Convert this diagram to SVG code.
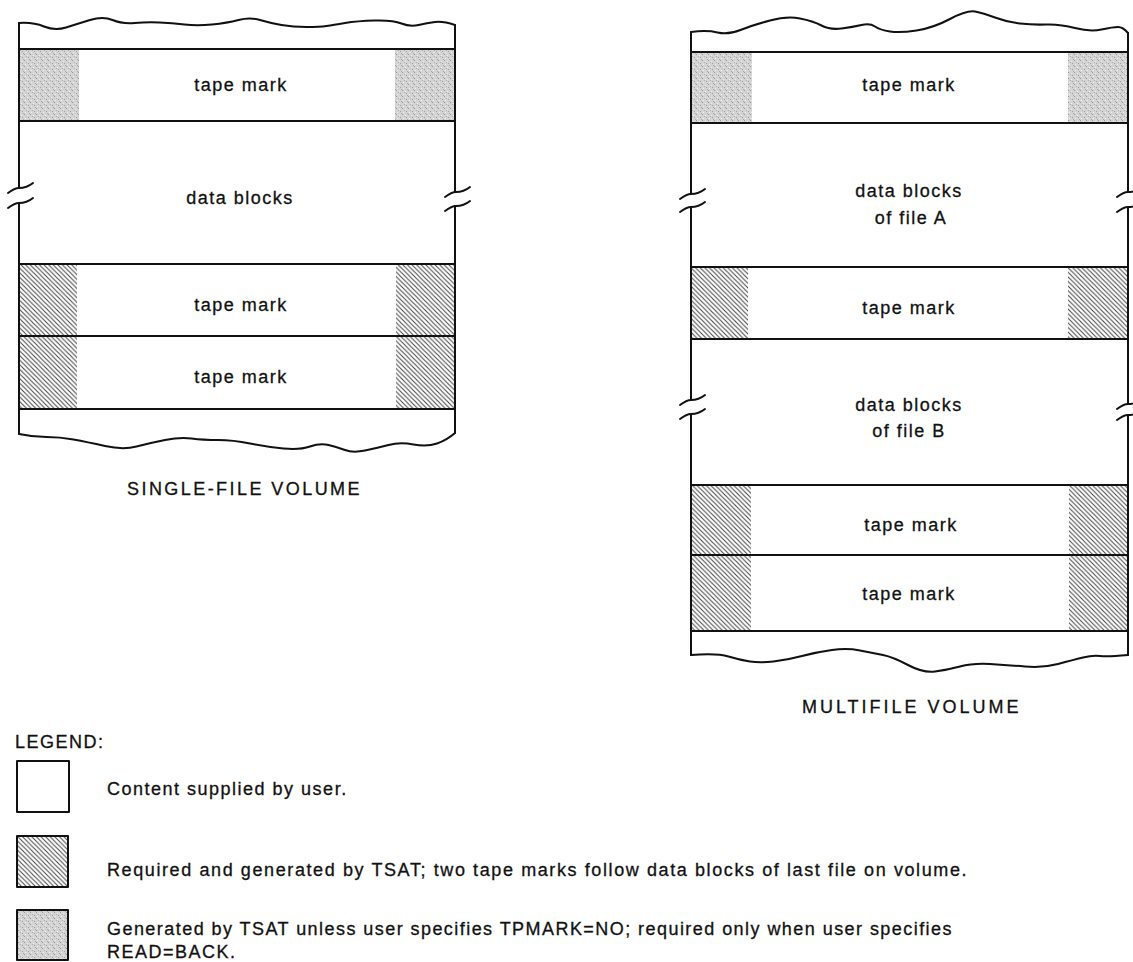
<svg xmlns="http://www.w3.org/2000/svg" xmlns:xlink="http://www.w3.org/1999/xlink" width="1133" height="962" viewBox="0 0 1133 962">
<style>
.ln{stroke:#111;stroke-width:2;fill:none;stroke-linecap:round;stroke-linejoin:round}
.t{font-family:"Liberation Sans",Arial,Helvetica,sans-serif;font-size:18px;fill:#111;stroke:#111;stroke-width:0.3px;letter-spacing:1.5px}
.c{text-anchor:middle}
.h{fill:url(#hatch)}
.s{fill:url(#stipple)}
</style>
<defs>
<pattern id="hatch" patternUnits="userSpaceOnUse" width="4.6" height="4.6">
<rect width="4.6" height="4.6" fill="#fff"/>
<path d="M-1,-1 L5.6,5.6 M-1,3.6 L1,5.6 M3.6,-1 L5.6,1" stroke="#444" stroke-width="1"/>
</pattern>
<pattern id="stipple" patternUnits="userSpaceOnUse" width="6" height="6">
<rect width="6" height="6" fill="#d4d4d4"/>
<rect x="0" y="0" width="1" height="1" fill="#9a9a9a"/>
<rect x="3" y="1" width="1" height="1" fill="#eeeeee"/>
<rect x="4" y="3" width="1" height="1" fill="#a0a0a0"/>
<rect x="1" y="4" width="1" height="1" fill="#f0f0f0"/>
<rect x="2" y="2" width="1" height="1" fill="#b0b0b0"/>
<rect x="5" y="5" width="1" height="1" fill="#aaaaaa"/>
</pattern>
<path id="tilde" class="ln" d="M-11,5 C-7,2 -4,0 0,0 S9,-1 14,-5"/>
</defs>
<rect width="1133" height="962" fill="#fff"/>

<g id="single-file-volume">
  <g id="sf-shading">
    <rect class="s" x="19" y="49" width="60" height="72"/>
    <rect class="s" x="395" y="49" width="60" height="72"/>
    <rect class="h" x="19" y="264" width="58" height="72"/>
    <rect class="h" x="396" y="264" width="59" height="72"/>
    <rect class="h" x="19" y="336" width="58" height="73"/>
    <rect class="h" x="396" y="336" width="59" height="73"/>
  </g>
  <g id="sf-outline">
    <path class="ln" d="M19,23 Q33,22 44,26.5 Q55,31 66,27.5 Q77,24 90,20 Q103,16 112.5,20 Q122,24 134.5,23 Q147,22 159.5,22.5 Q172,23 184.5,24.5 Q197,26 212,24.5 Q227,23 238.5,20 Q250,17 260,20 Q270,23 281.5,25 Q293,27 306.5,27 Q320,27 326.5,26 Q333,25 345,23 Q357,21 375,20.5 Q393,20 401.5,23.5 Q410,27 418.5,25 Q427,23 435,22 Q443,21 455,25"/>
    <path class="ln" d="M19,434 Q33,437 46.5,437 Q60,437 73.5,439.5 Q87,442 105,446 Q123,450 136.5,446.5 Q150,443 165,440 Q180,437 191.5,438.5 Q203,440 218,440 Q233,440 250,443.5 Q267,447 283.5,448.5 Q300,450 310,446.5 Q320,443 328.5,445 Q337,447 345,450 Q353,453 365,450.5 Q377,448 388.5,445 Q400,442 413.5,444.5 Q427,447 437,443.5 Q447,440 455,433"/>
    <path class="ln" d="M19,23 V188 M19,203 V434 M455,25 V192 M455,206 V433"/>
    <use href="#tilde" x="19" y="188"/>
    <use href="#tilde" x="19" y="203"/>
    <use href="#tilde" x="456" y="192"/>
    <use href="#tilde" x="456" y="206"/>
    <path class="ln" d="M19,49 H455 M19,121 H455 M19,264 H455 M19,336 H455 M19,409 H455"/>
  </g>
  <g id="sf-tape-mark-1"><text class="t c" x="241" y="91">tape mark</text></g>
  <g id="sf-data-blocks"><text class="t c" x="240" y="204">data blocks</text></g>
  <g id="sf-tape-mark-2"><text class="t c" x="241" y="311">tape mark</text></g>
  <g id="sf-tape-mark-3"><text class="t c" x="241" y="383">tape mark</text></g>
  <text class="t c" x="244" y="495" textLength="234" lengthAdjust="spacing">SINGLE-FILE VOLUME</text>
</g>

<g id="multifile-volume">
  <g id="mf-shading">
    <rect class="s" x="691" y="52" width="61" height="71"/>
    <rect class="s" x="1068" y="52" width="60" height="71"/>
    <rect class="h" x="691" y="267" width="57" height="72"/>
    <rect class="h" x="1068" y="267" width="60" height="72"/>
    <rect class="h" x="691" y="485" width="60" height="70"/>
    <rect class="h" x="1069" y="485" width="59" height="70"/>
    <rect class="h" x="691" y="555" width="60" height="76"/>
    <rect class="h" x="1069" y="555" width="59" height="76"/>
  </g>
  <g id="mf-outline">
    <path class="ln" d="M691,32 Q707,30 717.5,32.5 Q728,35 740.5,30 Q753,25 770,20.5 Q787,16 800,18.5 Q813,21 821.5,25.5 Q830,30 841.5,28.5 Q853,27 861.5,25 Q870,23 875,26.5 Q880,30 890,31.5 Q900,33 916.5,30.5 Q933,28 950,19 Q967,10 975,11.5 Q983,13 995,17.5 Q1007,22 1020,23.5 Q1033,25 1046.5,24.5 Q1060,24 1075,28 Q1090,32 1101.5,29.5 Q1113,27 1118,27 Q1123,27 1128,33"/>
    <path class="ln" d="M691,655 Q717,653 728.5,656.5 Q740,660 750,661.5 Q760,663 773.5,661.5 Q787,660 802,656 Q817,652 832,650 Q847,648 860,650.5 Q873,653 883,655 Q893,657 908,665 Q923,673 935,671.5 Q947,670 960,666.5 Q973,663 990,664 Q1007,665 1025,666.5 Q1043,668 1058,664 Q1073,660 1083,657.5 Q1093,655 1100,656 Q1107,657 1128,655"/>
    <path class="ln" d="M691,32 V194 M691,207 V400 M691,414 V655 M1128,33 V192 M1128,207 V404 M1128,415 V655"/>
    <use href="#tilde" x="691" y="194"/>
    <use href="#tilde" x="691" y="207"/>
    <use href="#tilde" x="691" y="400"/>
    <use href="#tilde" x="691" y="414"/>
    <use href="#tilde" x="1128" y="192"/>
    <use href="#tilde" x="1128" y="207"/>
    <use href="#tilde" x="1128" y="404"/>
    <use href="#tilde" x="1128" y="415"/>
    <path class="ln" d="M691,52 H1128 M691,123 H1128 M691,267 H1128 M691,339 H1128 M691,485 H1128 M691,555 H1128 M691,631 H1128"/>
  </g>
  <g id="mf-tape-mark-1"><text class="t c" x="909" y="91">tape mark</text></g>
  <g id="mf-data-a"><text class="t c" x="909" y="197">data blocks</text><text class="t c" x="911" y="224">of file A</text></g>
  <g id="mf-tape-mark-2"><text class="t c" x="909" y="314">tape mark</text></g>
  <g id="mf-data-b"><text class="t c" x="909" y="411">data blocks</text><text class="t c" x="909" y="437">of file B</text></g>
  <g id="mf-tape-mark-3"><text class="t c" x="911" y="531">tape mark</text></g>
  <g id="mf-tape-mark-4"><text class="t c" x="909" y="600">tape mark</text></g>
  <text class="t c" x="911" y="713" textLength="218" lengthAdjust="spacing">MULTIFILE VOLUME</text>
</g>

<g id="legend">
  <text class="t" x="15" y="748">LEGEND:</text>
  <g id="legend-user">
    <rect class="ln" x="17" y="761" width="52" height="51" fill="#fff"/>
    <text class="t" x="107" y="795">Content supplied by user.</text>
  </g>
  <g id="legend-required">
    <rect class="h" x="17" y="836" width="51" height="51"/>
    <rect class="ln" x="17" y="836" width="51" height="51"/>
    <text class="t" x="107" y="876" textLength="861" lengthAdjust="spacing">Required and generated by TSAT; two tape marks follow data blocks of last file on volume.</text>
  </g>
  <g id="legend-generated">
    <rect class="s" x="17" y="910" width="51" height="50"/>
    <rect class="ln" x="17" y="910" width="51" height="50"/>
    <text class="t" x="107" y="935" textLength="846" lengthAdjust="spacing">Generated by TSAT unless user specifies TPMARK=NO; required only when user specifies</text>
    <text class="t" x="107" y="958">READ=BACK.</text>
  </g>
</g>
</svg>
